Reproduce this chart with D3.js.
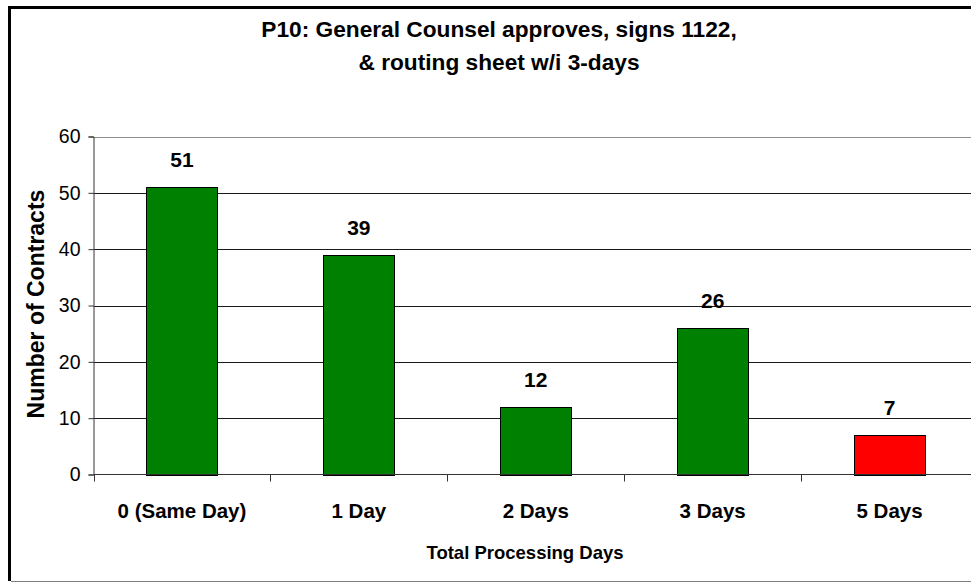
<!DOCTYPE html>
<html>
<head>
<meta charset="utf-8">
<script src="https://cdn.jsdelivr.net/npm/d3@7"></script>
<style>
  body { margin: 0; background: #fff; }
  svg { display: block; font-family: "Liberation Sans", Arial, sans-serif; }
</style>
</head>
<body>
<script>
// chart data
var categories = ["0 (Same Day)", "1 Day", "2 Days", "3 Days", "5 Days"];
var counts = [51, 39, 12, 26, 7];
var barColors = ["#008000", "#008000", "#008000", "#008000", "#ff0000"];
var yTicks = [0, 10, 20, 30, 40, 50, 60];
var titleLines = ["P10: General Counsel approves, signs 1122,", "& routing sheet w/i 3-days"];

var width = 971;
var height = 582;
var margin = { top: 136.5, left: 93.5, right: 978, bottom: 474.5 };

var svg = d3.select("body").append("svg")
    .attr("width", width)
    .attr("height", height);

// outer frame
svg.append("line").attr("x1", 9.5).attr("x2", 9.5).attr("y1", 6).attr("y2", 581)
    .attr("stroke", "#000").attr("stroke-width", 3);
svg.append("line").attr("x1", 8).attr("x2", width).attr("y1", 7.5).attr("y2", 7.5)
    .attr("stroke", "#000").attr("stroke-width", 3);
svg.append("line").attr("x1", 11).attr("x2", width).attr("y1", 581.5).attr("y2", 581.5)
    .attr("stroke", "#808080").attr("stroke-width", 1);

var x = d3.scaleBand()
    .domain(categories)
    .range([margin.left, margin.right])
    .padding(0);

var y = d3.scaleLinear()
    .domain([0, 60])
    .range([margin.bottom, margin.top]);

// gridlines
svg.append("g")
    .selectAll("line")
    .data(yTicks.filter(function (d) { return d > 0; }))
    .enter().append("line")
    .attr("x1", margin.left)
    .attr("x2", width)
    .attr("y1", function (d) { return Math.round(y(d)) + 0.5; })
    .attr("y2", function (d) { return Math.round(y(d)) + 0.5; })
    .attr("stroke", function (d) { return d == 60 ? "#8c8c8c" : "#1a1a1a"; })
    .attr("stroke-width", 1);

// y axis
var yAxis = d3.axisLeft(y)
    .tickValues(yTicks)
    .tickSize(5)
    .tickPadding(8);

var gy = svg.append("g")
    .attr("transform", "translate(" + margin.left + ",0)")
    .call(yAxis);
gy.select(".domain").attr("stroke", "#333");
gy.selectAll(".tick line").attr("stroke", "#333");
gy.selectAll(".tick text")
    .style("font-size", "19.5px")
    .attr("fill", "#000");

// bars
var barW = x.bandwidth() * 0.404;
svg.append("g")
    .selectAll("rect")
    .data(counts)
    .enter().append("rect")
    .attr("x", function (d, i) { return Math.round(x(categories[i]) + x.bandwidth() / 2 - barW / 2) + 0.5; })
    .attr("y", function (d) { return Math.round(y(d)) + 0.5; })
    .attr("width", Math.round(barW))
    .attr("height", function (d) { return Math.round(y(0)) - Math.round(y(d)); })
    .attr("fill", function (d, i) { return barColors[i]; })
    .attr("stroke", "#000")
    .attr("stroke-width", 1);

// value labels
svg.append("g")
    .selectAll("text")
    .data(counts)
    .enter().append("text")
    .attr("x", function (d, i) { return x(categories[i]) + x.bandwidth() / 2; })
    .attr("y", function (d) { return y(d) - 20; })
    .attr("text-anchor", "middle")
    .style("font-size", "21px")
    .style("font-weight", "bold")
    .text(function (d) { return d; });

// x axis
var xAxis = d3.axisBottom(x).tickSize(0).tickPadding(0);
var gx = svg.append("g")
    .attr("transform", "translate(0," + margin.bottom + ")")
    .call(xAxis);
gx.select(".domain").remove();
gx.append("line")
    .attr("x1", margin.left).attr("x2", width)
    .attr("y1", 0).attr("y2", 0)
    .attr("stroke", "#333");
gx.selectAll(".tick text")
    .attr("y", 43)
    .attr("dy", 0)
    .style("font-size", "20.5px")
    .style("font-weight", "bold")
    .attr("fill", "#000");

// category separator ticks
gx.append("g")
    .selectAll("line")
    .data(categories)
    .enter().append("line")
    .attr("x1", function (d) { return Math.round(x(d)) + 0.5; })
    .attr("x2", function (d) { return Math.round(x(d)) + 0.5; })
    .attr("y1", 0)
    .attr("y2", 7)
    .attr("stroke", "#333");

// axis titles
svg.append("text")
    .attr("x", 525)
    .attr("y", 559)
    .attr("text-anchor", "middle")
    .style("font-size", "18.5px")
    .style("font-weight", "bold")
    .text("Total Processing Days");

svg.append("text")
    .attr("transform", "translate(44,304) rotate(-90)")
    .attr("text-anchor", "middle")
    .style("font-size", "23px")
    .style("font-weight", "bold")
    .text("Number of Contracts");

// title
svg.append("g")
    .selectAll("text")
    .data(titleLines)
    .enter().append("text")
    .attr("x", 499)
    .attr("y", function (d, i) { return 37 + i * 33; })
    .attr("text-anchor", "middle")
    .style("font-size", "22.7px")
    .style("font-weight", "bold")
    .text(function (d) { return d; });
</script>
</body>
</html>
